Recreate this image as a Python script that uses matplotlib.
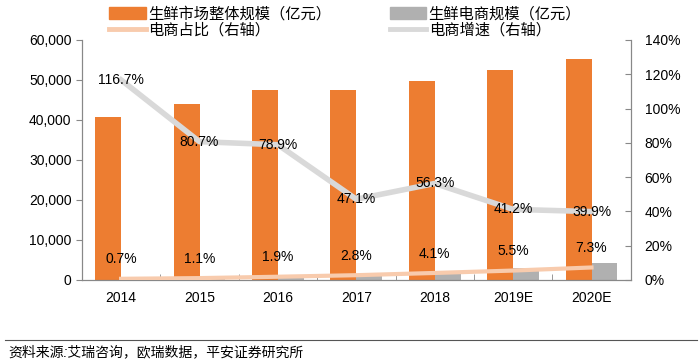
import matplotlib.pyplot as plt
import numpy as np
from matplotlib.patches import Patch
from matplotlib.lines import Line2D

plt.rcParams['font.family'] = ['Liberation Sans', 'Noto Sans CJK SC']

years = ['2014', '2015', '2016', '2017', '2018', '2019E', '2020E']
market = [40700, 44000, 47500, 47500, 49700, 52500, 55300]
ecommerce = [290, 497, 914, 1391, 2103, 2970, 4155]
share = [0.7, 1.1, 1.9, 2.8, 4.1, 5.5, 7.3]
growth = [116.7, 80.7, 78.9, 47.1, 56.3, 41.2, 39.9]

orange = '#ED7D31'
grey = '#B0B0B0'
peach = '#F8CBAD'
light = '#D9D9D9'

fig = plt.figure(figsize=(7, 3.61), dpi=100)
ax = fig.add_axes([0.117, 0.2244, 0.784, 0.6648])
ax2 = ax.twinx()

x = np.arange(len(years))
w = 0.33
ax.bar(x - w / 2, market, w, color=orange, zorder=2)
ax.bar(x + w / 2, ecommerce, w, color=grey, zorder=2)

ax.set_xlim(-0.5, len(years) - 0.5)
ax.set_ylim(0, 60000)
ax.set_yticks(np.arange(0, 60001, 10000))
ax.set_yticklabels([f'{v:,}' for v in range(0, 60001, 10000)])
ax.set_xticks(x)
ax.set_xticklabels(years)
ax.set_xticks(np.arange(0.5, len(years) - 1, 1), minor=True)
ax.tick_params(axis='x', which='major', length=0, labelsize=10, pad=8)
ax.tick_params(axis='x', which='minor', length=4, direction='in', color='#888888')
ax.tick_params(axis='y', length=4, direction='out', color='#888888', labelsize=10)

ax2.plot(x, growth, color=light, lw=4, zorder=3)
ax2.plot(x, share, color=peach, lw=3, zorder=3)
ax2.set_ylim(0, 140)
ax2.set_yticks(np.arange(0, 141, 20))
ax2.set_yticklabels([f'{v}%' for v in range(0, 141, 20)])
ax2.tick_params(axis='y', length=4, direction='in', color='#888888', labelsize=10, pad=10)

for xi, g in zip(x, growth):
    ax2.text(xi, g, f'{g}%', ha='center', va='center', fontsize=10, zorder=4)
for xi, s in zip(x, share):
    ax2.annotate(f'{s}%', (xi, s), xytext=(0, 14), textcoords='offset points',
                 ha='center', va='center', fontsize=10, zorder=4)

for a in (ax, ax2):
    a.spines['top'].set_visible(False)
    for s in ('left', 'right', 'bottom'):
        a.spines[s].set_color('#888888')
        a.spines[s].set_linewidth(0.8)

# two legend columns placed separately
leg_kw = dict(loc='upper left', frameon=False, fontsize=11, handlelength=2.4,
              handleheight=0.75, handletextpad=0.15, labelspacing=0.1)
fig.legend([Patch(color=orange), Line2D([], [], color=peach, lw=3.5)],
           ['生鲜市场整体规模（亿元）', '电商占比（右轴）'],
           bbox_to_anchor=(0.136, 1.02), **leg_kw)
fig.legend([Patch(color=grey), Line2D([], [], color=light, lw=3.5)],
           ['生鲜电商规模（亿元）', '电商增速（右轴）'],
           bbox_to_anchor=(0.537, 1.02), **leg_kw)

fig.add_artist(Line2D([0.007, 0.995], [1 - 340 / 361] * 2, color='#555555', lw=0.8))
fig.text(0.012, 1 - 352 / 361, '资料来源:艾瑞咨询，欧瑞数据，平安证券研究所',
         fontsize=10, va='center', ha='left', style='italic')

fig.savefig('out.png', dpi=100)
